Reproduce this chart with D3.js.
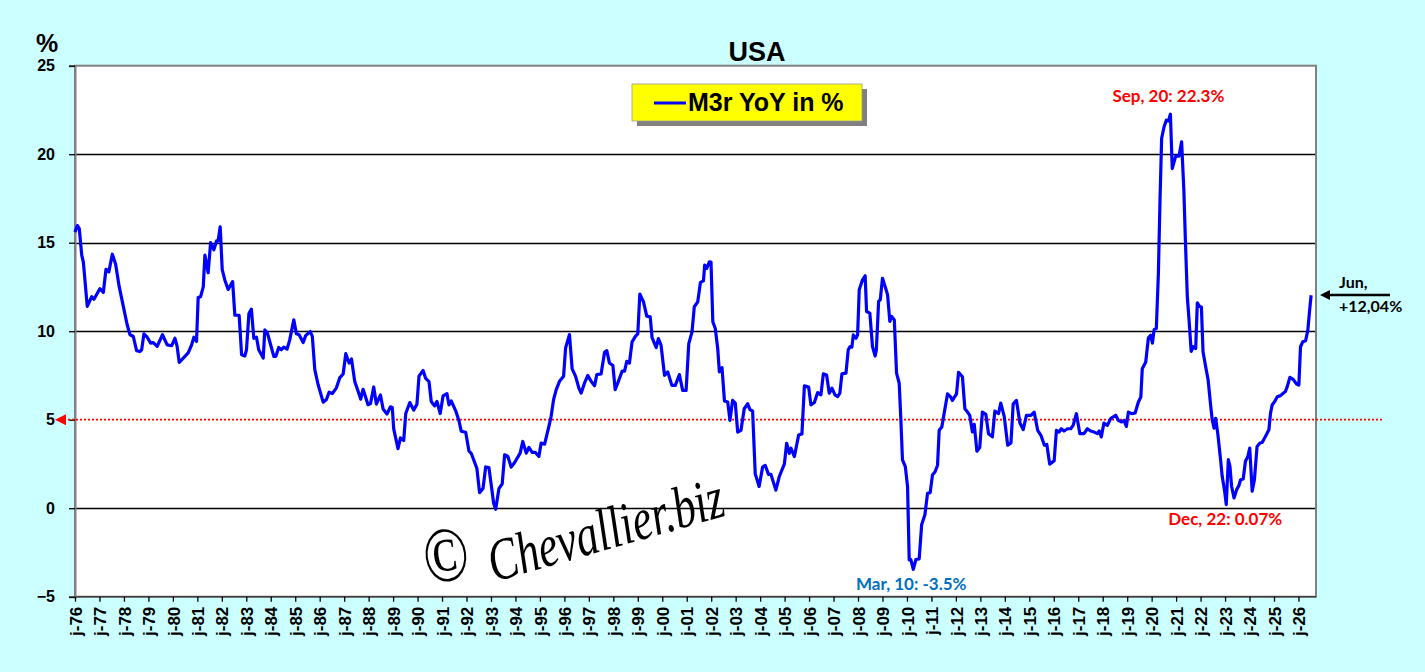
<!DOCTYPE html>
<html><head><meta charset="utf-8">
<script src="https://cdn.jsdelivr.net/npm/d3@7"></script>
<style>
html,body{margin:0;padding:0;background:#CCFFFF;}
svg{display:block;}
</style></head>
<body>
<svg id="chart" width="1425" height="672"></svg>
<script>
// ---- DATA ----
// months elapsed since January 1976, and M3r YoY %
const monthIndex = [0,1.2,2.1,3.3,4.1,6.0,8.2,9.3,12.2,13.9,15.2,16.6,18.3,19.9,21.7,23.7,25.6,27.0,28.6,30.2,31.8,32.7,33.8,35.4,37.1,38.4,40.3,42.9,45.2,47.4,49.0,50.1,51.1,53.1,55.5,57.2,58.3,59.6,60.4,61.6,62.9,63.7,65.3,66.5,68.1,69.4,70.2,71.2,
72.2,73.5,75.1,77.3,78.4,80.5,81.7,83.3,84.1,85.3,86.5,87.7,89.0,90.1,92.3,93.1,94.3,95.5,97.5,98.5,99.9,101.2,102.4,104.0,105.3,107.3,108.6,109.9,111.9,113.1,115.4,116.4,117.6,119.2,121.7,123.3,124.6,126.2,128.2,129.8,131.5,132.8,134.4,135.6,137.2,
138.8,140.1,141.3,143.7,144.9,146.5,147.8,149.8,151.1,153.0,154.7,155.6,156.3,158.4,159.6,161.2,162.2,164.2,166.1,167.7,168.7,170.7,172.0,173.6,174.7,176.4,177.5,179.1,180.5,182.4,183.4,184.5,186.7,188.3,189.4,191.6,193.2,194.4,197.1,198.4,200.1,201.4,203.0,204.2,205.3,206.3,
207.9,209.5,210.7,212.3,213.9,215.6,218.3,219.6,221.3,222.6,224.2,225.8,227.5,228.6,230.3,232.4,233.5,234.7,236.0,237.6,239.6,240.6,242.5,243.8,245.5,247.1,248.2,249.9,251.5,253.1,254.8,255.9,258.0,259.7,260.8,262.1,263.8,264.9,266.2,268.3,269.5,270.6,271.9,273.2,274.9,276.0,
277.0,278.8,280.4,282.1,283.0,285.0,286.1,287.4,289.1,290.7,292.7,294.4,296.4,298.0,299.7,301.0,302.6,303.7,305.4,306.7,308.2,308.8,309.8,311.1,311.9,312.8,314.0,315.2,316.0,317.3,318.5,320.1,321.2,322.5,323.8,325.0,326.6,328.2,329.9,331.0,332.3,333.6,335.5,337.2,338.5,340.1,341.3,343.7,
345.4,347.9,349.0,350.3,351.1,352.8,354.9,356.5,357.7,359.8,360.9,362.6,364.2,365.8,367.0,368.6,369.9,371.2,372.7,374.0,375.1,376.1,378.1,379.2,380.1,381.0,381.7,383.0,383.8,384.6,386.2,387.5,388.2,389.8,391.1,392.4,393.0,394.1,394.9,396.0,397.4,398.5,399.6,400.5,401.8,402.9,404.2,405.0,405.8,407.2,408.3,
409.1,409.9,411.1,412.4,414.0,415.2,416.8,418.1,419.4,420.5,421.8,423.0,423.8,425.1,426.2,427.9,429.5,430.3,432.3,433.3,435.2,436.4,437.7,438.8,440.1,441.0,442.3,443.7,445.0,446.7,448.0,449.9,451.1,452.9,454.0,455.7,457.4,459.0,460.1,461.7,463.4,465.0,466.6,468.8,470.4,472.1,473.7,475.4,476.6,478.0,480.2,
481.3,482.6,483.7,485.0,486.7,488.3,489.5,491.1,492.8,494.8,496.5,498.1,499.8,501.4,502.3,503.3,504.6,506.3,507.9,509.0,510.4,511.7,513.3,514.4,515.6,516.6,518.2,519.9,521.5,522.7,523.4,525.1,526.4,527.5,528.4,529.2,530.3,531.3,532.1,532.9,534.1,535.2,536.2,537.2,538.1,539.8,541.4,542.7,543.8,544.6,545.5,
546.3,547.4,548.4,549.6,550.4,551.5,552.4,553.2,554.5,555.7,557.0,557.7,558.6,559.4,560.5,561.8,562.6,563.8,564.6,565.6,566.4,567.2,568.4,569.7,570.8,571.6,572.9,574.0,575.2,576.1,577.3,578.4,579.7,581.1,582.2,583.8,585.5,586.3,587.1,588.3,589.6,591.2,592.5,593.6,594.5,595.8,597.4,599.0,600.2,601.0,602.1,603.5,604.6,605.4,606.2];
const m3rYoY = [15.6,15.97,15.8,14.3,13.9,11.4,11.95,11.8,12.4,12.2,13.5,13.35,14.35,13.8,12.5,11.4,10.35,9.8,9.7,8.9,8.85,8.95,9.85,9.66,9.33,9.36,9.14,9.8,9.23,9.18,9.6,9.14,8.24,8.48,8.77,9.23,9.66,9.42,11.9,11.95,12.5,14.3,13.3,15.0,14.6,15.1,15.1,15.9,
13.48,12.88,12.36,12.8,10.9,10.9,8.67,8.6,8.95,11.0,11.25,9.6,9.66,8.95,8.48,10.07,9.92,9.42,8.58,8.58,9.08,8.95,9.1,8.99,9.51,10.64,9.85,9.8,9.36,9.75,9.98,9.7,7.83,6.99,5.99,6.14,6.55,6.48,6.8,7.36,7.58,8.73,8.2,8.43,7.15,
6.62,6.16,6.72,5.84,5.91,6.85,5.88,6.4,5.6,5.32,5.73,5.69,4.48,3.36,3.97,3.82,5.35,5.97,5.54,5.88,7.46,7.78,7.33,7.15,6.03,5.78,6.03,5.35,6.34,6.47,5.84,6.06,5.5,4.94,4.35,4.29,3.23,3.08,2.24,0.88,1.12,2.33,2.29,1.25,0.28,-0.06,
1.1,1.38,3.02,2.92,2.32,2.58,3.11,3.77,3.11,3.43,3.15,3.15,2.92,3.68,3.62,4.62,5.19,6.13,6.7,7.17,7.45,9.06,9.81,7.87,7.45,6.79,6.5,7.08,7.5,7.17,6.92,7.55,7.58,8.81,8.9,8.2,8.06,6.7,7.08,7.74,7.74,8.3,8.2,9.4,9.72,9.85,
12.1,11.66,10.85,10.81,9.64,9.08,9.58,9.21,7.51,7.7,6.94,6.94,7.55,6.66,6.66,9.3,9.96,11.38,11.66,12.74,12.85,13.74,13.55,13.92,13.9,10.53,10.15,9.02,7.7,7.94,6.06,6.0,4.96,6.09,5.94,4.3,4.4,5.62,5.9,5.57,5.49,1.94,1.23,2.32,2.42,1.91,1.91,1.02,
1.79,2.5,3.67,3.1,3.39,2.92,4.14,4.2,6.91,6.84,5.84,5.97,6.53,6.4,7.59,7.53,6.5,6.78,6.4,6.31,6.5,7.59,7.63,8.95,9.13,9.1,9.79,9.6,9.79,12.34,12.9,13.13,11.11,11.02,9.13,8.6,8.95,11.68,11.77,12.99,12.49,12.05,10.55,10.83,10.64,7.63,7.06,5.03,2.73,2.35,1.22,
-2.92,-2.9,-3.45,-2.9,-2.87,-0.94,-0.37,0.84,0.88,1.87,2.06,2.43,4.4,4.59,5.34,6.46,6.27,6.09,6.46,7.68,7.43,5.62,5.43,5.24,4.31,4.74,3.22,3.43,5.43,5.3,4.21,4.03,5.49,5.34,5.94,5.19,3.56,3.69,5.9,6.09,4.81,4.44,5.24,5.24,5.43,4.4,4.12,3.56,3.6,2.49,2.68,
4.4,4.3,4.49,4.36,4.49,4.49,4.68,5.34,4.21,4.21,4.49,4.36,4.3,4.21,4.36,4.02,4.81,4.68,5.06,5.15,5.25,4.96,4.87,4.96,4.62,5.43,5.34,5.38,6.0,6.28,7.88,8.26,9.63,9.77,9.33,10.09,10.15,13.25,17.4,20.9,21.55,21.92,21.88,22.26,19.19,19.89,19.89,20.7,17.96,14.95,11.94,
10.7,8.86,9.12,9.02,11.6,11.4,11.37,8.84,7.99,7.24,5.74,4.99,4.52,5.08,4.15,2.74,1.8,0.96,0.2,2.74,2.36,1.24,0.58,1.05,1.28,1.61,1.65,2.65,2.93,3.4,0.96,1.61,3.49,3.68,3.71,4.05,4.43,5.37,5.83,6.02,6.3,6.36,6.49,6.59,6.87,7.39,7.28,7.02,6.96,9.12,9.4,9.46,10.06,11.09,12.03];
const yearLabels = ["j-76","j-77","j-78","j-79","j-80","j-81","j-82","j-83","j-84","j-85","j-86","j-87","j-88","j-89","j-90","j-91","j-92","j-93","j-94","j-95","j-96","j-97","j-98","j-99","j-00","j-01","j-02","j-03","j-04","j-05","j-06","j-07","j-08","j-09","j-10","j-11","j-12","j-13","j-14","j-15","j-16","j-17","j-18","j-19","j-20","j-21","j-22","j-23","j-24","j-25","j-26"];
const yTicks = [-5,0,5,10,15,20,25];
const gridValues = [0,10,15,20];
const refLevel = 5;
const lastLabel = ["Jun,", "+12,04%"];
const lastValue = 12.04;
const callouts = [
  {text:"Sep, 20: 22.3%", m:537.2, v:22.3, color:"#FF0000"},
  {text:"Mar, 10: -3.5%", m:411.1, v:-3.5, color:"#0070C0"},
  {text:"Dec, 22: 0.07%", m:564.6, v:0.07, color:"#FF0000"}
];
const titleText = "USA";
const legendText = "M3r YoY in %";

// ---- LAYOUT ----
const svg = d3.select("#chart");
const L = 75, R = 1316, T = 65.7, B = 596.7;
const x = d3.scaleLinear().domain([0, 608.6]).range([L, R]);
const y = d3.scaleLinear().domain([-5, 25]).range([B, T]);
const labelFont = "'Liberation Sans', Arial, sans-serif";
const annFont = "Lato, 'Open Sans', sans-serif";

// plot area
svg.append("rect").attr("x", L).attr("y", T).attr("width", R - L).attr("height", B - T).attr("fill", "#fff");

// grid lines
svg.append("g").selectAll("line").data(gridValues).join("line")
  .attr("x1", L).attr("x2", R).attr("y1", d => Math.round(y(d)) + 0.5).attr("y2", d => Math.round(y(d)) + 0.5)
  .attr("stroke", "#000").attr("stroke-width", 1.3);

// frame
svg.append("rect").attr("x", L).attr("y", T).attr("width", R - L).attr("height", B - T)
  .attr("fill", "none").attr("stroke", "#808080").attr("stroke-width", 2);
svg.append("line").attr("x1", L).attr("x2", R).attr("y1", B).attr("y2", B).attr("stroke", "#404040").attr("stroke-width", 1.5);

// y axis
const yAxis = d3.axisLeft(y).tickValues(yTicks).tickSize(6).tickPadding(14).tickFormat(d3.format("d"));
const gy = svg.append("g").attr("transform", `translate(${L},0)`).call(yAxis);
gy.select(".domain").attr("stroke", "#808080").attr("stroke-width", 2);
gy.selectAll(".tick line").attr("stroke", "#000").attr("stroke-width", 1.3);
gy.selectAll(".tick text").attr("font-family", labelFont).attr("font-weight", "bold").attr("font-size", 16).attr("fill", "#000");

// x axis
const xTickVals = yearLabels.map((d, i) => i * 12);
const xAxis = d3.axisBottom(x).tickValues(xTickVals).tickSize(5).tickFormat((d, i) => yearLabels[i]);
const gx = svg.append("g").attr("transform", `translate(0,${B})`).call(xAxis);
gx.select(".domain").remove();
gx.selectAll(".tick line").attr("stroke", "#000").attr("stroke-width", 1.3);
gx.selectAll(".tick text")
  .attr("font-family", labelFont).attr("font-weight", "bold").attr("font-size", 17).attr("fill", "#000")
  .attr("transform", "rotate(-90)").attr("text-anchor", "end").attr("dx", "-10").attr("dy", "0.36em").attr("y", 0).attr("x", 0);

// reference level 5%
svg.append("line").attr("x1", 64).attr("x2", 1384).attr("y1", y(refLevel)).attr("y2", y(refLevel))
  .attr("stroke", "#FF0000").attr("stroke-width", 1.8).attr("stroke-dasharray", "2,2");
svg.append("path").attr("d", `M55,${y(refLevel)} L66,${y(refLevel) - 5.5} L66,${y(refLevel) + 5.5} Z`).attr("fill", "#FF0000");

// watermark
svg.append("g").attr("transform", "translate(426,584) rotate(-8) scale(1,1.3)")
  .append("text").attr("x", 0).attr("y", 0).text("©")
  .attr("font-family", "'Liberation Serif', serif").attr("font-style", "italic").attr("font-size", 60).attr("fill", "#000");
svg.append("g").attr("transform", "translate(494,582) rotate(-16) scale(1,1.35)")
  .append("text").attr("x", 0).attr("y", 0).text("Chevallier.biz")
  .attr("font-family", "'Liberation Serif', serif").attr("font-style", "italic").attr("font-size", 44).attr("fill", "#000");

// series line
const line = d3.line().x((d, i) => x(monthIndex[i])).y(d => y(d));
svg.append("path").datum(m3rYoY).attr("d", line)
  .attr("fill", "none").attr("stroke", "#0000FF").attr("stroke-width", 3.2).attr("stroke-linejoin", "round");

// title and unit
svg.append("text").attr("x", 757).attr("y", 61).attr("text-anchor", "middle").text(titleText)
  .attr("font-family", labelFont).attr("font-weight", "bold").attr("font-size", 27);
svg.append("text").attr("x", 47).attr("y", 52).attr("text-anchor", "middle").text("%")
  .attr("font-family", labelFont).attr("font-weight", "bold").attr("font-size", 25);

// legend
svg.append("rect").attr("x", 637).attr("y", 89).attr("width", 230).attr("height", 37).attr("fill", "#808080");
svg.append("rect").attr("x", 632).attr("y", 84).attr("width", 230).attr("height", 37).attr("fill", "#FFFF00").attr("stroke", "#999").attr("stroke-width", 0.8);
svg.append("line").attr("x1", 654).attr("x2", 686).attr("y1", 103).attr("y2", 103).attr("stroke", "#0000FF").attr("stroke-width", 3);
svg.append("text").attr("x", 688).attr("y", 111).text(legendText)
  .attr("font-family", labelFont).attr("font-weight", "bold").attr("font-size", 25);

// callouts
const calloutPos = [
  {dx: -2, dy: -11},
  {dx: -2, dy: 20},
  {dx: -1, dy: 18}
];
svg.append("g").selectAll("text").data(callouts).join("text")
  .attr("x", (d, i) => x(d.m) + calloutPos[i].dx)
  .attr("y", (d, i) => y(d.v) + calloutPos[i].dy)
  .attr("text-anchor", "middle").text(d => d.text).attr("fill", d => d.color)
  .attr("font-family", annFont).attr("font-weight", "bold").attr("font-size", 17);

// last value arrow
const ya = y(lastValue);
svg.append("line").attr("x1", 1328).attr("x2", 1390).attr("y1", ya).attr("y2", ya).attr("stroke", "#000").attr("stroke-width", 2.5);
svg.append("path").attr("d", `M1320,${ya} L1330,${ya - 5} L1330,${ya + 5} Z`).attr("fill", "#000");
svg.append("text").attr("x", 1339).attr("y", ya - 7).text(lastLabel[0])
  .attr("font-family", annFont).attr("font-weight", "bold").attr("font-size", 16);
svg.append("text").attr("x", 1339).attr("y", ya + 17).text(lastLabel[1])
  .attr("font-family", annFont).attr("font-weight", "bold").attr("font-size", 16);
</script>
</body></html>
